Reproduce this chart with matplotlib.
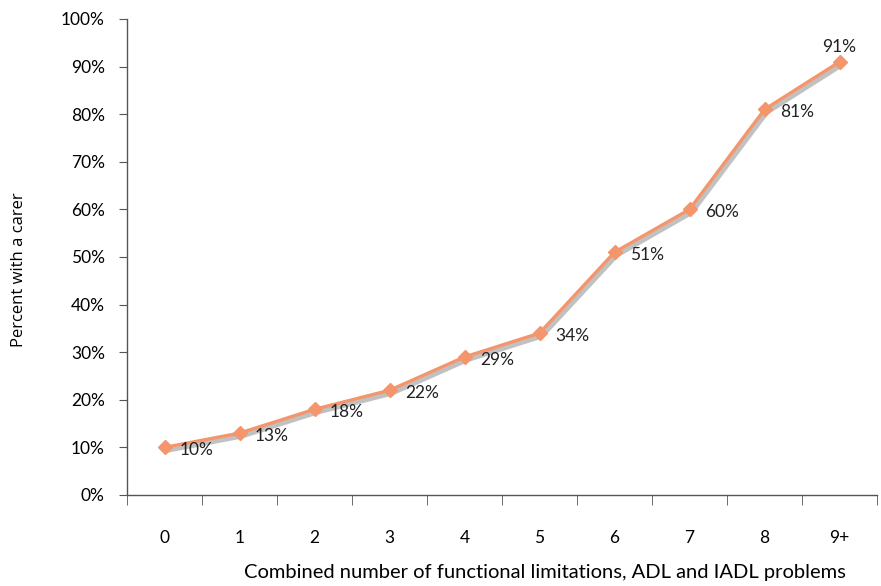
import matplotlib
matplotlib.use("Agg")
import matplotlib.pyplot as plt
import matplotlib.patheffects as pe
from matplotlib.ticker import FixedLocator, NullFormatter

plt.rcParams["font.family"] = ["Lato", "DejaVu Sans"]

categories = ["0", "1", "2", "3", "4", "5", "6", "7", "8", "9+"]
percent_with_carer = [10, 13, 18, 22, 29, 34, 51, 60, 81, 91]
y_ticks = [0, 10, 20, 30, 40, 50, 60, 70, 80, 90, 100]

fig = plt.figure(figsize=(8.81, 5.86), dpi=100)
ax = fig.add_axes([0.1442, 0.1553, 0.8513, 0.8123])

x = list(range(len(categories)))
line_color = "#F4956B"
# line with soft grey drop shadow
ax.plot(x, percent_with_carer, color=line_color, lw=2.4, solid_joinstyle="miter",
        path_effects=[pe.SimpleLineShadow(offset=(1.5, -2.2), shadow_color="#777777",
                                          alpha=0.45, linewidth=3.5),
                      pe.Normal()])
ax.plot(x, percent_with_carer, linestyle="none", marker="D", markersize=7,
        color=line_color, markeredgecolor=line_color)

for i, v in enumerate(percent_with_carer):
    if i == len(categories) - 1:
        ax.annotate(f"{v}%", (i, v), xytext=(0, 5), textcoords="offset points",
                    ha="center", va="bottom", fontsize=12.5, color="#222222")
    else:
        ax.annotate(f"{v}%", (i, v), xytext=(11, -2), textcoords="offset points",
                    ha="left", va="center", fontsize=12.5, color="#222222")

ax.set_xlim(-0.5, len(categories) - 0.5)
ax.set_ylim(0, 100)
ax.set_yticks(y_ticks)
ax.set_yticklabels([f"{t}%" for t in y_ticks], fontsize=12.5)
ax.set_xticks(x)
ax.set_xticklabels(categories, fontsize=12.5)
ax.xaxis.set_minor_locator(FixedLocator([i + 0.5 for i in range(-1, len(categories))]))
ax.xaxis.set_minor_formatter(NullFormatter())
ax.tick_params(axis="x", which="major", length=0, pad=25)
ax.tick_params(axis="x", which="minor", length=7, color="#555555", direction="out")
ax.tick_params(axis="y", length=6, color="#555555", direction="out", pad=10)

for side in ["top", "right"]:
    ax.spines[side].set_visible(False)
for side in ["left", "bottom"]:
    ax.spines[side].set_color("#555555")
    ax.spines[side].set_linewidth(1.0)

ax.set_ylabel("Percent with a carer", fontsize=12, family=["Open Sans", "DejaVu Sans"])
ax.yaxis.set_label_coords(-0.134, 0.474)
ax.set_xlabel("Combined number of functional limitations, ADL and IADL problems",
              fontsize=14.5)
ax.xaxis.set_label_coords(0.557, -0.145)

fig.savefig("out.png", dpi=100, facecolor="white")
